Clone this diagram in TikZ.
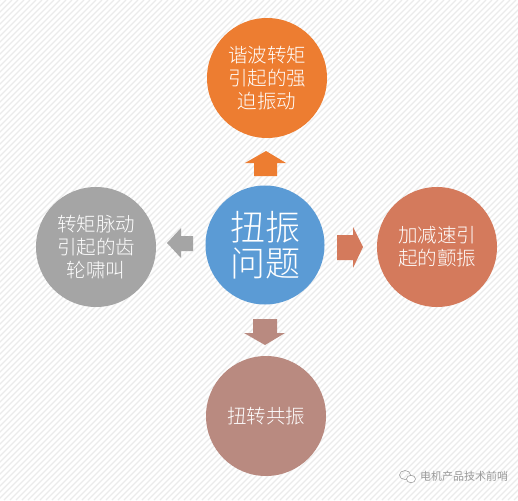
\documentclass[tikz,border=0pt]{standalone}
\usepackage{fontspec}
\usetikzlibrary{shapes.geometric}
\setmainfont{Noto Sans CJK SC}
\newfontfamily\cjk[UprightFont=* Light]{Noto Sans CJK SC}
\newfontfamily\cjkmark{Noto Sans CJK SC}
\definecolor{cOrange}{HTML}{ED7D31}
\definecolor{cBlue}{HTML}{5B9BD5}
\definecolor{cGray}{HTML}{A5A5A5}
\definecolor{cCoral}{HTML}{D47A5C}
\definecolor{cMauve}{HTML}{B98A80}
\definecolor{cStripe}{HTML}{EBEBEB}
\definecolor{cMark}{HTML}{9A9A9A}
\tikzset{
  bubble/.style={circle, minimum size=120pt, inner sep=0pt, text=white, align=center,
    font=\cjk\fontsize{19.5}{23}\selectfont},
  hub/.style={bubble, minimum size=119pt, font=\cjk\fontsize{35}{36}\selectfont},
}
\begin{document}
\begin{tikzpicture}[x=1pt,y=-1pt]
\useasboundingbox (0,0) rectangle (518,500);
\fill[white] (0,0) rectangle (518,500);
\begin{scope}
  \clip (0,0) rectangle (518,500);
  \foreach \c in {0,6,...,1020} {
    \draw[cStripe, line width=1.3pt] (\c,0) -- (\c-500,500);
  }
\end{scope}
% circles
\node[hub, fill=cBlue] (c) at (265,245) {扭振\\问题};
\node[bubble, fill=cOrange] (t) at (267,78) {谐波转矩\\引起的强\\迫振动};
\node[bubble, fill=cGray] (l) at (96,247) {转矩脉动\\引起的齿\\轮啸叫};
\node[bubble, fill=cCoral] (r) at (437,247) {加减速引\\起的颤振};
\node[bubble, fill=cMauve] (b) at (266,416) {扭转共振};
% block arrows
\fill[cOrange] (254,176) -- (254,163) -- (245,163) -- (266,151) -- (286,163) -- (277,163) -- (277,176) -- cycle;
\fill[cGray] (193,236) -- (181,236) -- (181,228) -- (167,243) -- (181,258) -- (181,251) -- (193,251) -- cycle;
\fill[cCoral] (337,235) -- (353,235) -- (353,227) -- (363,247) -- (353,268) -- (353,260) -- (337,260) -- cycle;
\fill[cMauve] (253,319) -- (277,319) -- (277,333) -- (285,333) -- (265,345) -- (244,333) -- (253,333) -- cycle;
% watermark
\node[draw=cMark, line width=0.6pt, ellipse, minimum width=11pt, minimum height=9pt, inner sep=0pt] (w1) at (405,475) {};
\node[fill=white, draw=cMark, line width=0.6pt, ellipse, minimum width=9pt, minimum height=7.5pt, inner sep=0pt] (w2) at (411,479) {};
\node[anchor=west, text=cMark, font=\cjkmark\fontsize{11}{12}\selectfont, inner sep=0pt] (wm) at (420,476) {电机产品技术前哨};
\end{tikzpicture}
\end{document}
